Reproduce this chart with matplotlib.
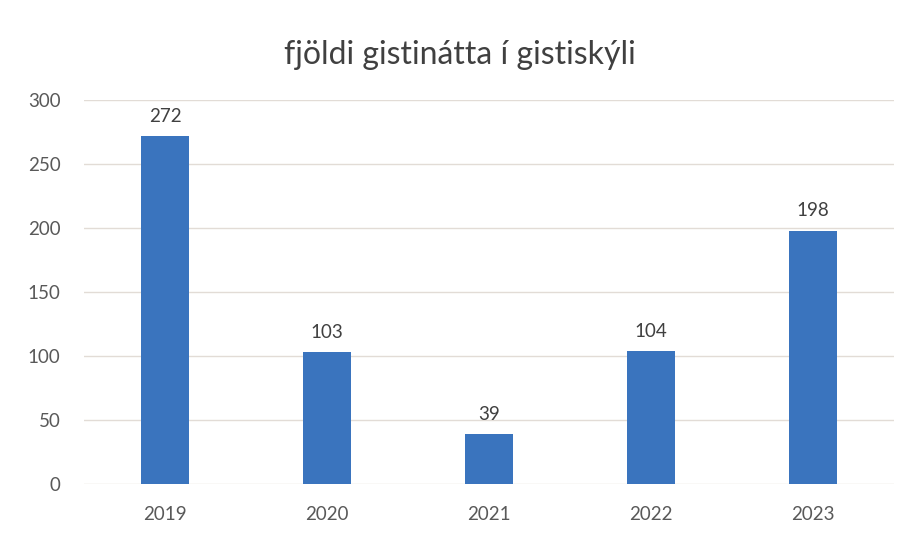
import matplotlib.pyplot as plt

# gögn lesin af myndinni
years = ["2019", "2020", "2021", "2022", "2023"]
nights = [272, 103, 39, 104, 198]
yticks = [0, 50, 100, 150, 200, 250, 300]

plt.rcParams['font.family'] = ['Lato', 'DejaVu Sans']

fig = plt.figure(figsize=(9.14, 5.37), dpi=100)
ax = fig.add_axes([0.0919, 0.0987, 0.886, 0.7151])

x = range(len(years))
bars = ax.bar(x, nights, width=0.30, color='#3A74BE', zorder=3)

for xi, v in zip(x, nights):
    ax.annotate(str(v), (xi, v), xytext=(0, 8), textcoords='offset points',
                ha='center', va='bottom', fontsize=13.5, color='#404040')

ax.set_xlim(-0.5, len(years) - 0.5)
ax.set_ylim(0, 300)
ax.set_yticks(yticks)
ax.set_xticks(list(x))
ax.set_xticklabels(years)
ax.tick_params(axis='both', length=0, labelsize=13.5, colors='#595959')
ax.tick_params(axis='y', pad=17)
ax.tick_params(axis='x', pad=16)
ax.grid(axis='y', color='#E2DCD6', linewidth=1, zorder=0)
for s in ax.spines.values():
    s.set_visible(False)

fig.text(0.503, 0.898, "fjöldi gistinátta í gistiskýli", ha='center', va='center',
         fontsize=23, color='#404040')

fig.savefig("out.png", dpi=100, facecolor='white')
